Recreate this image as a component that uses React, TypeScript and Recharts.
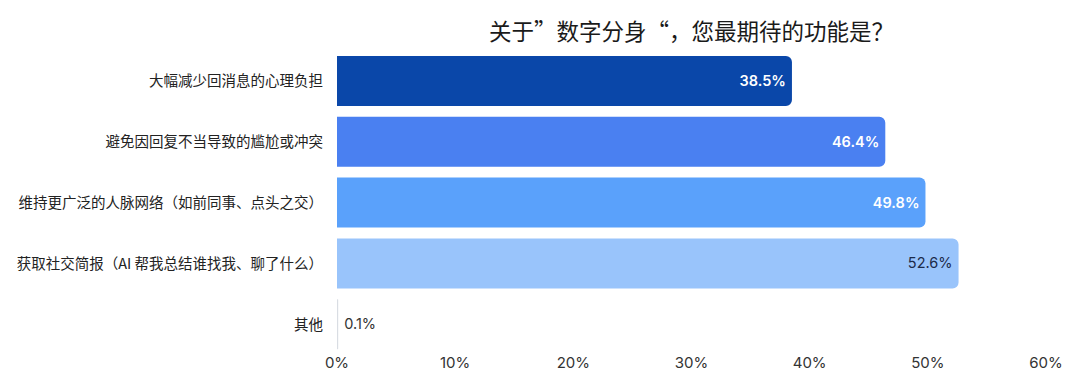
import { BarChart, Bar, XAxis, YAxis, Cell, LabelList } from 'recharts';

const categories = [
  '大幅减少回消息的心理负担',
  '避免因回复不当导致的尴尬或冲突',
  '维持更广泛的人脉网络（如前同事、点头之交）',
  '获取社交简报（AI 帮我总结谁找我、聊了什么）',
  '其他',
];
const values = [38.5, 46.4, 49.8, 52.6, 0.1];
const barColors = ['#0a47a9', '#4a80f1', '#5aa1fb', '#99c4fb', '#d9dde3'];
const labelColors = ['#ffffff', '#ffffff', '#ffffff', '#1c2b4a', '#333333'];
const xTicks = [0, 10, 20, 30, 40, 50, 60];

const data = categories.map((name, i) => ({ name, value: values[i] }));

const FONT = '"Noto Sans CJK SC", "Noto Sans", sans-serif';

function CategoryTick(props: any) {
  const { x, y, payload } = props;
  return (
    <text x={x} y={y} dy="0.35em" textAnchor="end" fill="#222" fontSize={14.5} fontFamily={FONT}>
      {payload.value}
    </text>
  );
}

function ValueLabel(props: any) {
  const { x, y, width, height, value, index } = props;
  const inside = value > 5;
  return (
    <text
      x={inside ? x + width - 6 : x + width + 6}
      y={y + height / 2}
      dy="0.35em"
      textAnchor={inside ? 'end' : 'start'}
      fill={labelColors[index]}
      fontSize={14.5}
      fontWeight={index < 3 ? 600 : 400}
      fontFamily='Inter, "Noto Sans", sans-serif'
    >
      {value}%
    </text>
  );
}

export default function App() {
  return (
    <div style={{ position: 'relative', width: 1080, height: 385, background: '#fff' }}>
      <style>{'body{margin:0}'}</style>
      <div
        style={{
          position: 'absolute',
          top: 13,
          left: 337,
          width: 709,
          textAlign: 'center',
          fontFamily: FONT,
          fontSize: 22.5,
          color: '#1a1a1a',
          lineHeight: '34px',
        }}
      >
        关于”数字分身“，您最期待的功能是？
      </div>
      <BarChart
        width={1080}
        height={385}
        data={data}
        layout="vertical"
        margin={{ top: 51, right: 34, left: 0, bottom: 0 }}
      >
        <XAxis
          type="number"
          domain={[0, 60]}
          ticks={xTicks}
          tickFormatter={(v) => `${v}%`}
          axisLine={false}
          tickLine={false}
          tickSize={0}
          tickMargin={2}
          height={30}
          interval={0}
          tick={{ fill: '#333', fontSize: 15, fontFamily: 'Inter, sans-serif' }}
        />
        <YAxis
          type="category"
          dataKey="name"
          width={337}
          axisLine={false}
          tickLine={false}
          tickSize={0}
          tickMargin={14}
          interval={0}
          tick={<CategoryTick />}
        />
        <Bar dataKey="value" barSize={50} radius={[0, 6, 6, 0]} isAnimationActive={false}>
          {data.map((d, i) => (
            <Cell key={d.name} fill={barColors[i]} />
          ))}
          <LabelList dataKey="value" content={<ValueLabel />} />
        </Bar>
      </BarChart>
    </div>
  );
}
